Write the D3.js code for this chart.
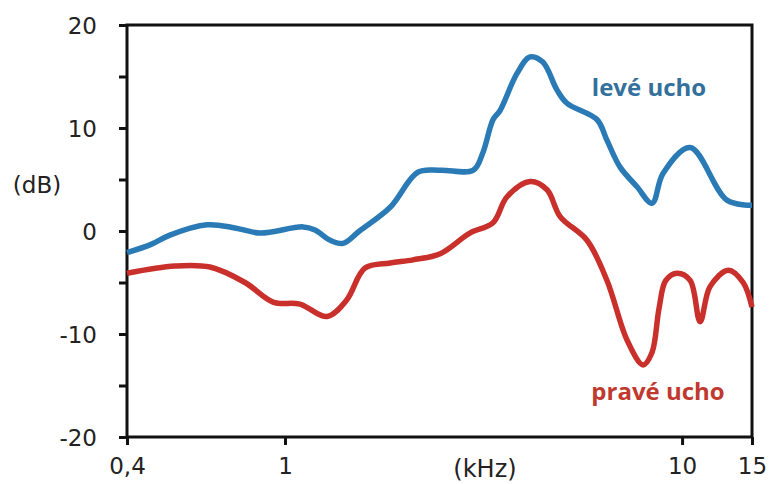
<!DOCTYPE html>
<html>
<head>
<meta charset="utf-8">
<script src="https://cdn.jsdelivr.net/npm/d3@7"></script>
<style>
  body { margin: 0; background: #fff; }
  text { font-family: "DejaVu Sans", Verdana, sans-serif; }
</style>
</head>
<body>
<svg width="770" height="484"></svg>
<script>
var svg = d3.select("svg"),
    width = +svg.attr("width"),
    height = +svg.attr("height");

// frequency (kHz) and level (dB)
var leftFreq = [0.4, 0.46, 0.513, 0.636, 0.748, 0.865, 1.11, 1.19, 1.30, 1.40, 1.54, 1.84, 2.16, 2.46, 2.98, 3.15, 3.34, 3.48, 3.84, 4.14, 4.46, 4.84, 5.13, 6.11, 6.47, 6.98, 7.70, 8.40, 8.96, 10.48, 12.97, 15];
var leftDb   = [-2.1, -1.3, -0.4, 0.6, 0.3, -0.2, 0.4, 0.1, -0.9, -1.2, 0.0, 2.3, 5.7, 5.9, 5.9, 7.6, 10.8, 11.7, 15.3, 16.9, 16.4, 13.7, 12.4, 10.8, 8.8, 6.2, 4.3, 2.7, 5.6, 8.1, 3.0, 2.5];

var rightFreq = [0.4, 0.528, 0.647, 0.793, 0.933, 1.09, 1.276, 1.43, 1.59, 1.84, 2.10, 2.46, 2.92, 3.34, 3.62, 4.14, 4.57, 4.93, 5.76, 6.47, 7.27, 7.98, 8.4, 8.75, 9.1, 9.72, 10.48, 11.1, 11.76, 13.08, 14.25, 15];
var rightDb   = [-4.1, -3.4, -3.5, -5.0, -6.9, -7.1, -8.3, -6.7, -3.6, -3.1, -2.8, -2.2, -0.2, 0.8, 3.3, 4.8, 4.0, 1.4, -0.9, -4.8, -10.6, -13.0, -11.8, -7.5, -4.8, -4.1, -4.8, -8.8, -5.4, -3.8, -5.0, -7.4];

var xTicks = [0.4, 1, 10, 15];
var xTickLabels = ["0,4", "1", "10", "15"];
var yTicks = [-20, -15, -10, -5, 0, 5, 10, 15, 20];

var x = d3.scaleLog().domain([0.4, 15]).range([127, 752]);
var y = d3.scaleLinear().domain([-20, 20]).range([437, 25]);

// frame
svg.append("rect")
    .attr("x", x(0.4)).attr("y", y(20))
    .attr("width", x(15) - x(0.4)).attr("height", y(-20) - y(20))
    .attr("fill", "none").attr("stroke", "#111").attr("stroke-width", 3);

var yAxis = svg.append("g")
    .attr("transform", "translate(" + x(0.4) + ",0)")
    .call(d3.axisLeft(y).tickValues(yTicks).tickSize(8).tickPadding(22)
        .tickFormat(function(d) { return d % 10 === 0 ? d : ""; }));
yAxis.select(".domain").remove();
yAxis.selectAll("line").attr("stroke", "#111").attr("stroke-width", 3);
yAxis.selectAll("text").attr("font-size", 23).attr("fill", "#222").attr("dy", "0.36em")
    .style("font-family", "'DejaVu Sans', Verdana, sans-serif");

var xAxis = svg.append("g")
    .attr("transform", "translate(0," + y(-20) + ")")
    .call(d3.axisBottom(x).tickValues(xTicks).tickSize(8).tickPadding(13)
        .tickFormat(function(d, i) { return xTickLabels[i]; }));
xAxis.select(".domain").remove();
xAxis.selectAll("line").attr("stroke", "#111").attr("stroke-width", 3);
xAxis.selectAll("text").attr("font-size", 23).attr("fill", "#222")
    .style("font-family", "'DejaVu Sans', Verdana, sans-serif");

svg.append("text")
    .attr("x", 37).attr("y", 185).attr("dy", "0.36em")
    .attr("text-anchor", "middle").attr("font-size", 23).attr("fill", "#222")
    .text("(dB)");
svg.append("text")
    .attr("x", 485).attr("y", 477)
    .attr("text-anchor", "middle").attr("font-size", 24).attr("fill", "#222")
    .text("(kHz)");

var line = d3.line()
    .x(function(d) { return x(d[0]); })
    .y(function(d) { return y(d[1]); })
    .curve(d3.curveCatmullRom.alpha(0.5));

svg.append("path")
    .datum(d3.zip(rightFreq, rightDb))
    .attr("d", line)
    .attr("fill", "none").attr("stroke", "#c9302b").attr("stroke-width", 5.5)
    .attr("stroke-linejoin", "round");

svg.append("path")
    .datum(d3.zip(leftFreq, leftDb))
    .attr("d", line)
    .attr("fill", "none").attr("stroke", "#2a7ab6").attr("stroke-width", 5.5)
    .attr("stroke-linejoin", "round");

svg.append("text")
    .attr("x", 649).attr("y", 96)
    .attr("text-anchor", "middle").attr("font-size", 24).attr("font-weight", "bold")
    .attr("fill", "#33709c").style("font-family", "'Open Sans', sans-serif")
    .text("levé ucho");
svg.append("text")
    .attr("x", 658).attr("y", 400)
    .attr("text-anchor", "middle").attr("font-size", 24).attr("font-weight", "bold")
    .attr("fill", "#c0392f").style("font-family", "'Open Sans', sans-serif")
    .text("pravé ucho");
</script>
</body>
</html>
